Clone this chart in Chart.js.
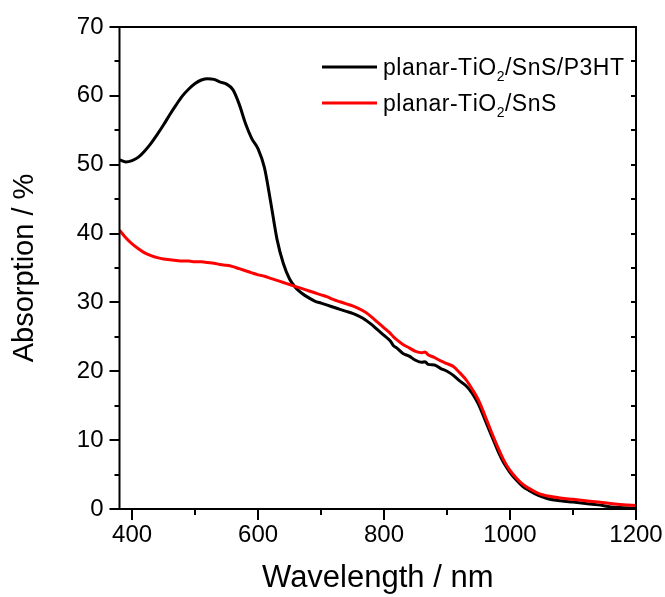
<!DOCTYPE html>
<html>
<head>
<meta charset="utf-8">
<script src="https://cdn.jsdelivr.net/npm/chart.js@4.4.0/dist/chart.umd.min.js"></script>
<style>
  html, body { margin: 0; padding: 0; background: #fff; }
  #wrap { width: 665px; height: 597px; position: relative; }
</style>
</head>
<body>
<div id="wrap"><canvas id="c" width="665" height="597"></canvas></div>
<script>
// ---------- data ----------
const wavelengths = [380,390,400,410,420,430,440,450,460,470,480,490,500,510,520,530,540,550,560,570,580,590,600,610,620,630,640,650,660,670,680,690,700,710,720,730,740,750,760,770,780,790,800,810,815,820,830,840,850,860,865,870,880,890,900,910,920,930,940,950,960,970,980,990,1000,1010,1020,1030,1040,1050,1060,1080,1100,1120,1140,1160,1180,1200];

const absP3HT = [50.7,50.4,50.6,51.1,52.0,53.1,54.4,55.8,57.3,58.7,60.0,61.0,61.8,62.3,62.5,62.4,62.0,61.7,60.9,58.8,56.0,53.8,52.3,49.6,44.6,39.2,35.7,33.4,32.1,31.3,30.7,30.2,29.9,29.6,29.3,29.0,28.7,28.4,28.0,27.5,26.8,26.0,25.2,24.4,23.7,23.4,22.6,22.2,21.6,21.3,21.4,21.0,20.9,20.4,20.0,19.4,18.6,17.9,16.8,15.2,13.0,10.8,8.6,6.7,5.3,4.2,3.3,2.7,2.2,1.8,1.5,1.2,1.0,0.8,0.6,0.3,0.2,0.1];

const absSnS = [40.5,39.4,38.5,37.8,37.2,36.8,36.5,36.3,36.2,36.1,36.0,36.0,35.9,35.9,35.8,35.7,35.5,35.4,35.2,34.9,34.6,34.3,34.0,33.8,33.5,33.2,32.9,32.6,32.3,32.0,31.7,31.4,31.1,30.8,30.4,30.1,29.8,29.5,29.1,28.6,27.9,27.1,26.3,25.5,25.0,24.6,23.9,23.4,22.9,22.7,22.8,22.4,22.0,21.5,21.1,20.7,19.8,18.8,17.4,15.8,13.6,11.3,9.1,7.1,5.6,4.5,3.6,3.0,2.5,2.1,1.9,1.6,1.4,1.2,1.0,0.8,0.6,0.5];

const seriesNames = ['planar-TiO\u2082/SnS/P3HT', 'planar-TiO\u2082/SnS'];
const seriesColors = ['#000000', '#ff0000'];

const xMajorTicks = [400, 600, 800, 1000, 1200];
const xMinorTicks = [500, 700, 900, 1100];
const yMajorTicks = [0, 10, 20, 30, 40, 50, 60, 70];
const yMinorTicks = [5, 15, 25, 35, 45, 55, 65];

const xTitle = 'Wavelength / nm';
const yTitle = 'Absorption / %';

const FONT = '"Liberation Sans", Arial, Helvetica, sans-serif';

// ---------- plugins ----------
const framePlugin = {
  id: 'frame',
  afterDatasetsDraw(chart) {
    const ctx = chart.ctx;
    const a = chart.chartArea;
    const xs = chart.scales.x, ys = chart.scales.y;
    ctx.save();
    ctx.strokeStyle = '#000';
    ctx.lineWidth = 2;
    ctx.lineCap = 'butt';
    ctx.beginPath();
    ctx.rect(a.left, a.top, a.right - a.left, a.bottom - a.top);
    ctx.stroke();
    ctx.beginPath();
    xMajorTicks.forEach(v => { const px = Math.round(xs.getPixelForValue(v)); ctx.moveTo(px, a.bottom); ctx.lineTo(px, a.bottom + 11); });
    xMinorTicks.forEach(v => { const px = Math.round(xs.getPixelForValue(v)); ctx.moveTo(px, a.bottom); ctx.lineTo(px, a.bottom + 6); });
    yMajorTicks.forEach(v => { const py = Math.round(ys.getPixelForValue(v)); ctx.moveTo(a.left, py); ctx.lineTo(a.left - 10, py); });
    yMinorTicks.forEach(v => { const py = Math.round(ys.getPixelForValue(v)); ctx.moveTo(a.left, py); ctx.lineTo(a.left - 5, py); });
    yMajorTicks.concat(yMinorTicks).forEach(v => { const py = Math.round(ys.getPixelForValue(v)); ctx.moveTo(a.right, py); ctx.lineTo(a.right - 5, py); });
    ctx.stroke();
    ctx.restore();
  }
};

function drawRichText(ctx, text, x, y, size) {
  let cx = x;
  for (const ch of text) {
    if (ch === '\u2082') {
      ctx.font = Math.round(size * 0.6) + 'px ' + FONT;
      ctx.fillText('2', cx, y + size * 0.3);
      cx += ctx.measureText('2').width + 0.5;
    } else {
      ctx.font = size + 'px ' + FONT;
      ctx.fillText(ch, cx, y);
      cx += ctx.measureText(ch).width + 0.5;
    }
  }
}

const legendPlugin = {
  id: 'customLegend',
  afterDraw(chart) {
    const ctx = chart.ctx;
    const rows = [67, 103];
    ctx.save();
    seriesNames.forEach((name, i) => {
      ctx.strokeStyle = seriesColors[i];
      ctx.lineWidth = 3;
      ctx.beginPath();
      ctx.moveTo(322, rows[i]);
      ctx.lineTo(377, rows[i]);
      ctx.stroke();
      ctx.fillStyle = '#000';
      ctx.textBaseline = 'alphabetic';
      ctx.textAlign = 'left';
      drawRichText(ctx, name, 383, rows[i] + 7.5, 23);
    });
    ctx.restore();
  }
};

// ---------- chart ----------
const mk = (arr) => wavelengths.map((w, i) => ({ x: w, y: arr[i] }));

new Chart(document.getElementById('c'), {
  type: 'line',
  data: {
    datasets: [
      { label: seriesNames[0], data: mk(absP3HT), borderColor: seriesColors[0], borderWidth: 3, pointRadius: 0, cubicInterpolationMode: 'monotone', order: 2, fill: false },
      { label: seriesNames[1], data: mk(absSnS), borderColor: seriesColors[1], borderWidth: 3, pointRadius: 0, cubicInterpolationMode: 'monotone', order: 1, fill: false }
    ]
  },
  options: {
    responsive: false,
    animation: false,
    events: [],
    layout: { padding: { left: 0, right: 29, top: 27, bottom: 0 } },
    plugins: { legend: { display: false }, tooltip: { enabled: false } },
    scales: {
      x: {
        type: 'linear', min: 380, max: 1200,
        grid: { display: false, drawTicks: false },
        border: { display: false },
        afterBuildTicks: (s) => { s.ticks = xMajorTicks.map(v => ({ value: v })); },
        afterFit: (s) => { s.height = 88; s.paddingLeft = 0; s.paddingRight = 0; },
        ticks: { color: '#000', font: { family: FONT, size: 24 }, padding: 12, maxRotation: 0, autoSkip: false, callback: (v) => String(v) },
        title: { display: true, text: xTitle, color: '#000', font: { family: FONT, size: 31 }, padding: { top: 0, bottom: 0 } }
      },
      y: {
        type: 'linear', min: 0, max: 70,
        grid: { display: false, drawTicks: false },
        border: { display: false },
        afterBuildTicks: (s) => { s.ticks = yMajorTicks.map(v => ({ value: v })); },
        afterFit: (s) => { s.width = 119.5; s.paddingTop = 0; s.paddingBottom = 0; },
        ticks: { color: '#000', font: { family: FONT, size: 24 }, padding: 16, autoSkip: false, callback: (v) => String(v) },
        title: { display: true, text: yTitle, color: '#000', font: { family: FONT, size: 29 }, padding: { top: 8, bottom: 0 } }
      }
    }
  },
  plugins: [framePlugin, legendPlugin]
});
</script>
</body>
</html>
